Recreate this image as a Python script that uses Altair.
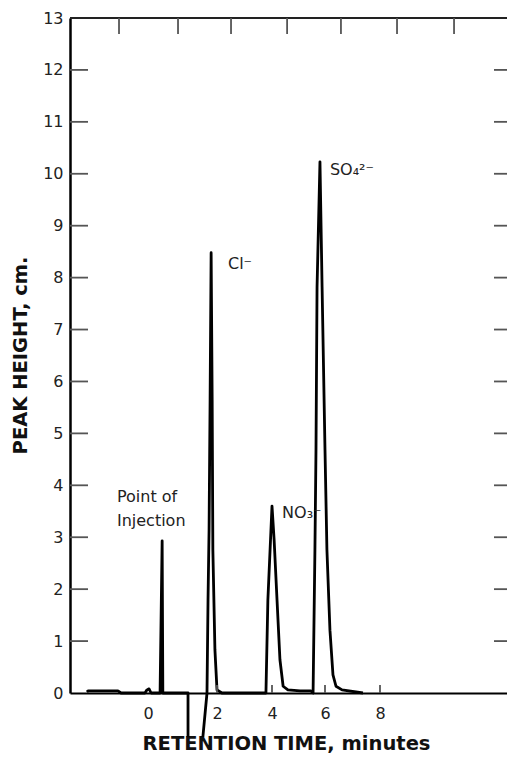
import altair as alt
import pandas as pd

# ---- data (retention time in minutes, peak height in cm) ----
seg1_t = [-1.77, -1.74, -0.87, -0.78, -0.09, -0.03, 0.03, 0.09, 0.35, 0.41, 0.43, 1.16, 1.16]
seg1_h = [0.02, 0.04, 0.04, 0.0, 0.0, 0.06, 0.08, 0.0, 0.0, 2.93, 0.0, 0.0, -0.85]
seg2_t = [1.59, 1.71, 1.74, 1.77, 1.80, 1.83, 1.86, 1.88, 1.94, 2.00,
          2.18, 3.78, 3.85, 4.00, 4.08, 4.19, 4.30, 4.42, 4.60, 5.06,
          5.47, 5.55, 5.62, 5.66, 5.70, 5.81, 5.89, 6.00, 6.07, 6.18,
          6.29, 6.40, 6.62, 7.38]
seg2_h = [-0.85, 0, 1.79, 3.14, 5.65, 8.48, 5.65, 2.76, 0.83, 0.06,
          0, 0, 1.79, 3.60, 2.95, 1.79, 0.64, 0.13, 0.06, 0.04,
          0.04, 0, 2.76, 4.68, 7.82, 10.23, 7.82, 4.68, 2.76, 1.21,
          0.35, 0.13, 0.06, 0]

label_text = ["Point of", "Injection", "Cl\u207b", "NO\u2083\u207b", "SO\u2084\u00b2\u207b"]
label_t = [-0.90, -0.90, 2.40, 4.38, 6.18]
label_h = [3.78, 3.31, 8.27, 3.47, 10.08]

x_tick_values = [0, 2, 4, 6, 8]
y_tick_values = list(range(0, 14))
inner_y_ticks = list(range(1, 13))
top_tick_t = [-0.84, 0.87, 2.51, 4.57, 6.58, 8.63, 10.74]
bottom_tick_t = [2, 4, 6, 8]

W, H = 437, 675
# hand-drawn time axis: piecewise-linear scale
X_DOMAIN = [-2.26, 0, 2, 4, 6, 8, 12.7]
X_RANGE = [0, 78, 147, 202, 255, 310, W]
Y_DOMAIN = [0, 13]

FONT = "DejaVu Sans"

xs = alt.Scale(domain=X_DOMAIN, range=X_RANGE, nice=False, zero=False)
ys = alt.Scale(domain=Y_DOMAIN, nice=False, zero=False)

trace = pd.DataFrame({
    "t": seg1_t + seg2_t,
    "h": seg1_h + seg2_h,
    "seg": ["a"] * len(seg1_t) + ["b"] * len(seg2_t),
    "idx": list(range(len(seg1_t) + len(seg2_t))),
})

line = alt.Chart(trace).mark_line(color="black", strokeWidth=2.8, strokeJoin="round").encode(
    x=alt.X("t:Q", scale=xs, axis=alt.Axis(
        values=x_tick_values, ticks=False, grid=False, domainColor="black", domainWidth=2.2,
        labelFontSize=16, labelFont=FONT, labelColor="#222", labelPadding=12,
        title="RETENTION TIME, minutes", titleFont=FONT, titleFontSize=19.5, titleFontWeight="bold",
        titleColor="#111", titleX=216, titleY=56, titleBaseline="alphabetic", titleAlign="center")),
    y=alt.Y("h:Q", scale=ys, axis=alt.Axis(
        values=y_tick_values, ticks=False, grid=False, domainColor="black", domainWidth=2.5,
        labelFontSize=16, labelFont=FONT, labelColor="#222", labelPadding=7,
        title="PEAK HEIGHT, cm.", titleFont=FONT, titleFontSize=19.5, titleFontWeight="bold",
        titleColor="#111", titleX=-50, titleY=337, titleAngle=270,
        titleBaseline="middle", titleAlign="center")),
    detail="seg:N",
    order="idx:Q",
)

top_frame = alt.Chart(pd.DataFrame({"t": [X_DOMAIN[0]], "t1": [X_DOMAIN[-1]], "h": [Y_DOMAIN[1]]})).mark_rule(
    color="#222", strokeWidth=2).encode(
    x=alt.X("t:Q", scale=xs), x2="t1:Q", y=alt.Y("h:Q", scale=ys))

tick_style = dict(color="#555", strokeWidth=1.8)
left_ticks = alt.Chart(pd.DataFrame({"h": inner_y_ticks})).mark_rule(**tick_style).encode(
    y=alt.Y("h:Q", scale=ys), x=alt.value(0), x2=alt.value(18))
right_ticks = alt.Chart(pd.DataFrame({"h": inner_y_ticks})).mark_rule(**tick_style).encode(
    y=alt.Y("h:Q", scale=ys), x=alt.value(W - 13), x2=alt.value(W))
top_ticks = alt.Chart(pd.DataFrame({"t": top_tick_t})).mark_rule(**tick_style).encode(
    x=alt.X("t:Q", scale=xs), y=alt.value(0), y2=alt.value(16))
bottom_ticks = alt.Chart(pd.DataFrame({"t": bottom_tick_t})).mark_rule(**tick_style).encode(
    x=alt.X("t:Q", scale=xs), y=alt.value(H), y2=alt.value(H - 8))

labels = alt.Chart(pd.DataFrame({"t": label_t, "h": label_h, "txt": label_text})).mark_text(
    align="left", baseline="middle", fontSize=16, font=FONT, color="#222").encode(
    x=alt.X("t:Q", scale=xs), y=alt.Y("h:Q", scale=ys), text="txt:N")

chart = alt.layer(line, top_frame, left_ticks, right_ticks, top_ticks, bottom_ticks, labels).properties(
    width=W, height=H,
    background="white",
    autosize=alt.AutoSizeParams(type="none"),
    padding={"left": 62, "top": 10, "right": 0, "bottom": 61},
).configure_view(stroke="transparent")

chart.save("out.html", embed_options={"renderer": "svg", "actions": False})
